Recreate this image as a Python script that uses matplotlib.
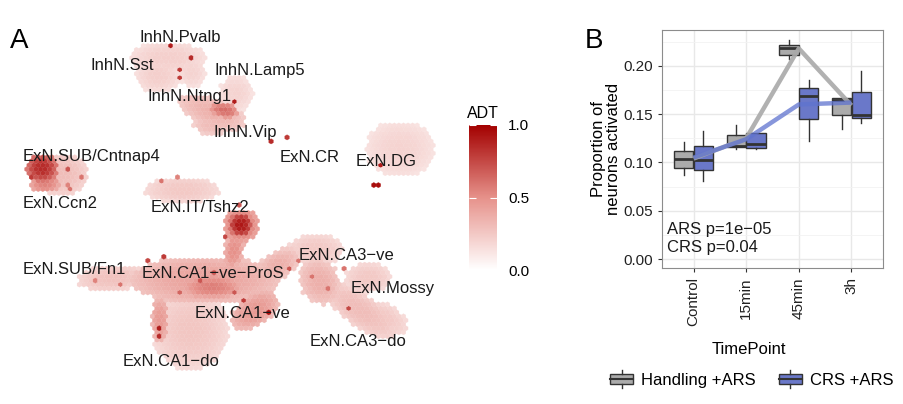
import numpy as np
import matplotlib
matplotlib.use("Agg")
import matplotlib.pyplot as plt
from matplotlib.colors import LinearSegmentedColormap
from matplotlib.patches import Rectangle
from matplotlib.lines import Line2D
from matplotlib.legend_handler import HandlerBase

plt.rcParams["font.family"] = ["Liberation Sans", "DejaVu Sans"]

# ---- panel A: UMAP cluster shapes (umap1, umap2, half-width, half-height, angle, ADT level)
blob_x = [168, 158, 192, 236, 212, 224, 210,
          400, 60, 42, 45, 182, 241, 241, 234, 112,
          205, 212, 278, 190, 160, 255, 190,
          315, 320, 360, 368, 382]
blob_y = [58, 76, 72, 93, 112, 110, 125,
          149, 174, 168, 183, 190, 225, 225, 250, 278,
          280, 287, 265, 330, 320, 310, 360,
          250, 282, 310, 278, 318]
blob_w = [36, 20, 12, 15, 34, 13, 16,
          33, 27, 14, 14, 36, 16, 10, 8, 32,
          72, 28, 22, 36, 7, 25, 18,
          27, 18, 42, 22, 26]
blob_h = [14, 15, 14, 17, 12, 6, 9,
          26, 19, 13, 9, 11, 15, 10, 18, 11,
          22, 10, 12, 38, 22, 14, 10,
          14, 22, 14, 13, 13]
blob_angle = [0, 0, 0, 0, 20, 10, 10,
              0, 0, 0, 0, 0, 0, 0, 10, -5,
              0, 0, -30, 0, 0, -35, 0,
              0, -30, 35, 0, 25]
blob_adt = [0.22, 0.22, 0.20, 0.20, 0.35, 0.62, 0.30,
            0.20, 0.30, 0.85, 0.55, 0.25, 0.62, 0.92, 0.50, 0.28,
            0.42, 0.56, 0.36, 0.26, 0.46, 0.46, 0.20,
            0.25, 0.36, 0.30, 0.25, 0.25]

# single high-ADT cells
dot_x = [170, 192, 182, 180, 233, 273, 285, 382, 373, 379, 158, 158, 162,
         150, 245, 225, 290, 350, 268, 200, 180, 214, 236, 300, 330, 312,
         345, 120, 95, 70, 72, 30, 240, 160, 176, 82, 66]
dot_y = [47, 60, 69, 78, 102, 141, 138, 164, 187, 185, 327, 335, 258,
         260, 300, 238, 270, 310, 312, 283, 290, 272, 292, 262, 290, 276,
         268, 283, 281, 170, 190, 178, 205, 180, 178, 178, 186]
dot_adt = [0.9, 0.85, 0.8, 0.8, 0.9, 0.85, 0.8, 0.9, 0.95, 0.95, 0.9, 0.85, 0.8,
           0.75, 0.8, 0.75, 0.7, 0.75, 0.95, 0.7, 0.65, 0.7, 0.7, 0.6, 0.6, 0.6,
           0.6, 0.6, 0.55, 0.7, 0.6, 0.8, 0.7, 0.6, 0.55, 0.6, 0.55]

clusters = ["InhN.Pvalb", "InhN.Sst", "InhN.Lamp5", "InhN.Ntng1", "InhN.Vip",
            "ExN.SUB/Cntnap4", "ExN.CR", "ExN.DG", "ExN.Ccn2", "ExN.IT/Tshz2",
            "ExN.CA3\u2212ve", "ExN.SUB/Fn1", "ExN.CA1\u2212ve\u2212ProS",
            "ExN.Mossy", "ExN.CA1\u2212ve", "ExN.CA3\u2212do", "ExN.CA1\u2212do"]
label_x = [180, 122, 260, 190, 245, 92, 310, 386, 60, 200,
           347, 74, 213, 393, 243, 358, 171]
label_y = [38, 65, 70, 97, 132, 157, 158, 161, 203, 207,
           256, 269, 273, 289, 313, 342, 361]

# ---- panel B: boxplot stats (whislo, q1, med, q3, whishi)
timepoints = ["Control", "15min", "45min", "3h"]
handling_box = [[0.0866, 0.0945, 0.1038, 0.1117, 0.1209],
                [0.1134, 0.1158, 0.1175, 0.1289, 0.1392],
                [0.2069, 0.2113, 0.2182, 0.2216, 0.2268],
                [0.1350, 0.1495, 0.1650, 0.1667, 0.1667]]
crs_box = [[0.0808, 0.0918, 0.1021, 0.1175, 0.1323],
           [0.1134, 0.1151, 0.1186, 0.1306, 0.1306],
           [0.1227, 0.1454, 0.1684, 0.1770, 0.1856],
           [0.1409, 0.1460, 0.1495, 0.1729, 0.1948]]
handling_mean = [0.104, 0.125, 0.218, 0.159]
crs_mean = [0.105, 0.124, 0.160, 0.162]
groups = ["Handling +ARS", "CRS +ARS"]

GREY = "#ababab"
BLUE = "#6a78c9"
EDGE = "#333333"

W, H = 904, 404
fig = plt.figure(figsize=(W / 100, H / 100), dpi=100)

# ================= panel A =================
axa = fig.add_axes([0, 0, 460 / W, 1])
axa.set_xlim(0, 460)
axa.set_ylim(404, 0)
axa.axis("off")

xs = np.arange(20, 445, 1.5)
ys = np.arange(30, 380, 1.5)
gx, gy = np.meshgrid(xs, ys)
val = np.full(gx.shape, np.nan)
for cx, cy, rw, rh, ang, lvl in zip(blob_x, blob_y, blob_w, blob_h, blob_angle, blob_adt):
    t = np.deg2rad(ang)
    dx, dy = gx - cx, gy - cy
    u = (dx * np.cos(t) + dy * np.sin(t)) / rw
    v = (-dx * np.sin(t) + dy * np.cos(t)) / rh
    d2 = u * u + v * v
    shade = lvl * (1 - 0.35 * d2)
    val = np.where(d2 <= 1, np.fmax(val, shade), val)
keep = ~np.isnan(val)
px = np.concatenate([gx[keep], dot_x])
py = np.concatenate([gy[keep], dot_y])
pc = np.concatenate([val[keep], dot_adt])

cmap = LinearSegmentedColormap.from_list(
    "adt", [(0, "#ffffff"), (0.5, "#e6918a"), (1, "#a30000")])
hb = axa.hexbin(px, py, C=pc, gridsize=(92, 44), extent=(20, 440, 30, 380),
                reduce_C_function=np.max, cmap=cmap, vmin=0, vmax=1,
                linewidths=0.2, edgecolors="face")

for name, lx, ly in zip(clusters, label_x, label_y):
    axa.text(lx, ly, name, fontsize=12, color="#1a1a1a", ha="center", va="center")

fig.text(10 / W, 1 - 41 / H, "A", fontsize=20, va="center", ha="left")

cax = fig.add_axes([469 / W, 1 - 270 / H, 28 / W, 145 / H])
cb = fig.colorbar(hb, cax=cax, ticks=[0, 0.5, 1])
cb.outline.set_visible(False)
cb.ax.set_yticklabels(["0.0", "0.5", "1.0"])
cb.ax.tick_params(direction="in", length=5, color="white", labelsize=11,
                  right=True, left=True, pad=8)
cb.ax.set_title("ADT", fontsize=11.5, pad=5)

# ================= panel B =================
axb = fig.add_axes([662 / W, 1 - 268 / H, 221 / W, 238 / H])
axb.set_xlim(0.4, 4.6)
axb.set_ylim(-0.0093, 0.2371)
axb.set_yticks([0, 0.05, 0.10, 0.15, 0.20])
axb.set_yticklabels(["0.00", "0.05", "0.10", "0.15", "0.20"])
axb.set_yticks([0.025, 0.075, 0.125, 0.175, 0.225], minor=True)
axb.set_xticks([1, 2, 3, 4])
axb.set_xticklabels(timepoints, rotation=90)
axb.grid(True, which="major", color="#e8e8e8", lw=1.0)
axb.grid(True, which="minor", axis="y", color="#f2f2f2", lw=0.6)
axb.set_axisbelow(True)
axb.tick_params(which="minor", length=0)
axb.tick_params(which="major", length=3, color="#333333", labelsize=11,
                labelcolor="#222222")
for s in axb.spines.values():
    s.set_color("#8c8c8c")
    s.set_linewidth(0.8)


def to_stats(rows):
    return [dict(whislo=r[0], q1=r[1], med=r[2], q3=r[3], whishi=r[4]) for r in rows]


pos = np.arange(1, 5)
for rows, off, col in [(handling_box, -0.1875, GREY), (crs_box, 0.1875, BLUE)]:
    axb.bxp(to_stats(rows), positions=pos + off, widths=0.37, patch_artist=True,
            showfliers=False, showcaps=False, manage_ticks=False,
            boxprops=dict(facecolor=col, edgecolor=EDGE, lw=1.0),
            medianprops=dict(color=EDGE, lw=2.0),
            whiskerprops=dict(color=EDGE, lw=1.0))

axb.plot(pos, handling_mean, color="#a9a9a9", lw=3.2, alpha=0.9, solid_capstyle="butt", zorder=5)
axb.plot(pos, crs_mean, color="#5f73cf", lw=3.2, alpha=0.75, solid_capstyle="butt", zorder=6)

axb.text(0.022, 0.125, "ARS p=1e\u221205\nCRS p=0.04", transform=axb.transAxes,
         fontsize=12, va="center", ha="left", color="#1a1a1a", linespacing=1.25)

fig.text(606 / W, 1 - 149 / H, "Proportion of\nneurons activated", rotation=90,
         fontsize=12, ha="center", va="center", linespacing=0.95)
fig.text(749 / W, 1 - 349 / H, "TimePoint", fontsize=12, ha="center", va="center")
fig.text(585 / W, 1 - 41 / H, "B", fontsize=20, va="center", ha="left")


class BoxKey(HandlerBase):
    def create_artists(self, legend, orig, xd, yd, w, h, fontsize, trans):
        x0, y0 = -xd, -yd
        fc = orig.get_facecolor()
        box = Rectangle((x0, y0 + 0.2 * h), w, 0.6 * h, facecolor=fc,
                        edgecolor=EDGE, lw=1.0, transform=trans)
        med = Line2D([x0, x0 + w], [y0 + 0.5 * h] * 2, color=EDGE, lw=1.5, transform=trans)
        wt = Line2D([x0 + w / 2] * 2, [y0 + 0.8 * h, y0 + h], color=EDGE, lw=1.0, transform=trans)
        wb = Line2D([x0 + w / 2] * 2, [y0, y0 + 0.2 * h], color=EDGE, lw=1.0, transform=trans)
        return [box, med, wt, wb]


handles = [Rectangle((0, 0), 1, 1, facecolor=GREY), Rectangle((0, 0), 1, 1, facecolor=BLUE)]
fig.legend(handles, groups, handler_map={Rectangle: BoxKey()}, loc="center",
           bbox_to_anchor=(752 / W, 1 - 379 / H), ncol=2, frameon=False,
           fontsize=12, handlelength=1.35, handleheight=1.2, handletextpad=0.5,
           columnspacing=1.4)

fig.savefig("out.png", dpi=100)
